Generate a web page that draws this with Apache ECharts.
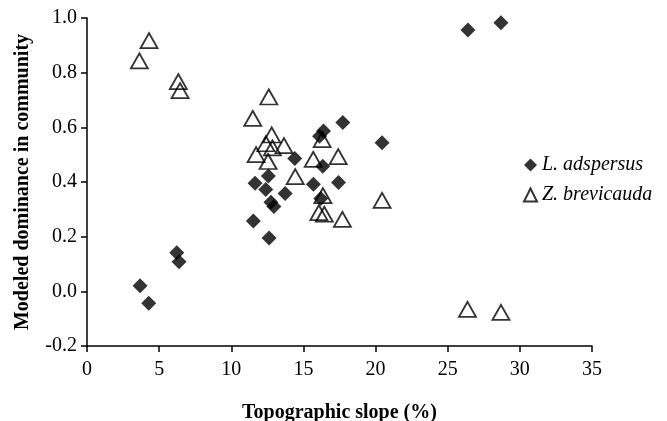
<!DOCTYPE html>
<html>
<head>
<meta charset="utf-8">
<script src="https://cdn.jsdelivr.net/npm/echarts@6/dist/echarts.min.js"></script>
<style>
html,body{margin:0;padding:0;background:#fff;}
#c{width:667px;height:421px;}
</style>
</head>
<body>
<div id="c"></div>
<script>
// Data
var adspersusX = [3.68, 4.28, 6.22, 6.38, 11.53, 11.65, 12.39, 12.57, 12.62, 12.75, 12.95, 13.73, 14.4, 15.69, 16.12, 16.39, 16.34, 16.2, 17.43, 17.73, 20.45, 26.4, 28.69];
var adspersusY = [0.02, -0.044, 0.141, 0.108, 0.257, 0.395, 0.373, 0.422, 0.195, 0.326, 0.31, 0.358, 0.486, 0.392, 0.567, 0.587, 0.458, 0.34, 0.398, 0.618, 0.544, 0.956, 0.983];

var brevicaudaX = [3.63, 4.3, 6.33, 6.45, 11.49, 12.6, 12.8, 12.4, 12.85, 13.65, 11.72, 12.55, 14.43, 15.68, 17.41, 16.3, 16.35, 16.07, 16.45, 17.7, 20.45, 26.37, 28.69];
var brevicaudaY = [0.843, 0.917, 0.767, 0.734, 0.633, 0.711, 0.572, 0.54, 0.525, 0.533, 0.5, 0.475, 0.42, 0.483, 0.493, 0.555, 0.35, 0.288, 0.282, 0.263, 0.333, -0.066, -0.077];

var seriesNames = ['L. adspersus', 'Z. brevicauda'];
var xTitle = 'Topographic slope (%)';
var yTitle = 'Modeled dominance in community';

function pairs(xs, ys) {
  return xs.map(function (x, i) { return [x, ys[i]]; });
}

var serif = '"Liberation Serif", "DejaVu Serif", serif';
var chart = echarts.init(document.getElementById('c'), null, {renderer: 'canvas'});
chart.setOption({
  animation: false,
  backgroundColor: '#fff',
  grid: {left: 87, right: 75, top: 18, bottom: 75, containLabel: false, outerBoundsMode: 'none'},
  legend: {
    orient: 'vertical',
    left: 518,
    top: 150,
    itemGap: 10,
    itemWidth: 13,
    itemHeight: 13,
    itemTextGap: 3,
    data: seriesNames,
    textStyle: {fontFamily: serif, fontStyle: 'italic', fontSize: 20, color: '#000'}
  },
  xAxis: {
    type: 'value', min: 0, max: 35, interval: 5,
    name: xTitle, nameLocation: 'middle', nameGap: 57,
    nameTextStyle: {fontFamily: serif, fontWeight: 'bold', fontSize: 20, color: '#000'},
    axisLine: {onZero: false, lineStyle: {color: '#000', width: 1.5}},
    axisTick: {show: true, inside: false, length: 6, lineStyle: {color: '#000', width: 1.5}},
    axisLabel: {fontFamily: serif, fontSize: 20, color: '#000', margin: 14},
    splitLine: {show: false}
  },
  yAxis: {
    type: 'value', min: -0.2, max: 1.0, interval: 0.2,
    name: yTitle, nameLocation: 'middle', nameGap: 54,
    nameTextStyle: {fontFamily: serif, fontWeight: 'bold', fontSize: 20, color: '#000'},
    axisLine: {show: true, onZero: false, lineStyle: {color: '#000', width: 1.5}},
    axisTick: {show: true, inside: false, length: 6, lineStyle: {color: '#000', width: 1.5}},
    axisLabel: {fontFamily: serif, fontSize: 20, color: '#000', margin: 10,
      formatter: function (v) { return v.toFixed(1); }},
    splitLine: {show: false}
  },
  series: [
    {
      name: seriesNames[1], type: 'scatter', symbol: 'triangle', symbolSize: [17, 15],
      itemStyle: {color: 'rgba(255,255,255,0)', borderColor: '#000', borderWidth: 1.8},
      data: pairs(brevicaudaX, brevicaudaY), z: 2
    },
    {
      name: seriesNames[0], type: 'scatter', symbol: 'diamond', symbolSize: [15, 15],
      itemStyle: {color: '#000'},
      data: pairs(adspersusX, adspersusY), z: 3
    }
  ]
});
</script>
</body>
</html>
